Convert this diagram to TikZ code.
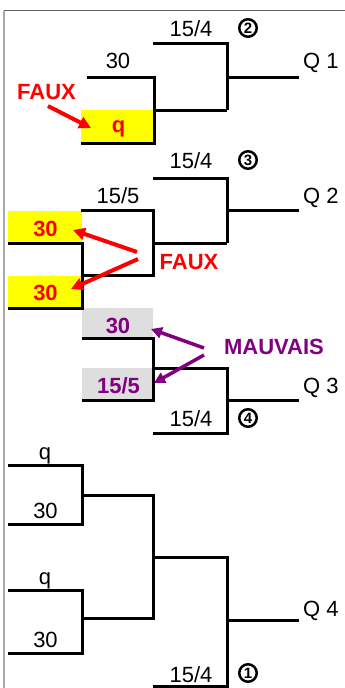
\documentclass[tikz,border=0pt]{standalone}
\usepackage{fontspec}
\setmainfont{Liberation Sans}
\usetikzlibrary{arrows.meta}
\definecolor{faux}{RGB}{255,0,0}
\definecolor{mauv}{RGB}{128,0,128}
\definecolor{hiyel}{RGB}{255,255,0}
\definecolor{higray}{RGB}{222,222,222}
\definecolor{frametop}{RGB}{96,96,96}
\definecolor{frameleft}{RGB}{170,170,170}
\begin{document}
\begin{tikzpicture}[x=1pt,y=-1pt,
  wire/.style={line width=3pt,line join=miter,line cap=butt},
  lbl/.style={inner sep=0pt,anchor=base,font=\fontsize{22}{26}\selectfont},
  qlbl/.style={lbl,anchor=base west},
  wrong/.style={lbl,font=\fontsize{22}{26}\selectfont\bfseries,text=faux},
  bad/.style={lbl,font=\fontsize{22}{26}\selectfont\bfseries,text=mauv},
  circ/.style={circle,draw,line width=2.5pt,minimum size=17.5pt,inner sep=0pt,anchor=center,
    font=\fontsize{15}{15}\selectfont\bfseries},
  redarrow/.style={draw=faux,line width=4pt,-{Triangle[length=12pt,width=12pt]}},
  purarrow/.style={draw=mauv,line width=3.5pt,-{Triangle[length=11pt,width=11pt]}}]
\useasboundingbox (0,0) rectangle (345,688);
% frame
\draw[frametop,line width=1pt] (4,10.5) -- (345,10.5);
\draw[frameleft,line width=1.5pt] (4,10.5) -- (4,688);
% highlighted boxes
\fill[hiyel] (81,110) rectangle (154,143);
\fill[hiyel] (8,211) rectangle (82,243);
\fill[hiyel] (8,276) rectangle (82,308);
\fill[higray] (82,308) rectangle (153,338);
\fill[higray] (82,368) rectangle (153,400);
% ---------- Q1 ----------
\draw[wire] (87,77) -- (154,77) -- (154,143) -- (81,143);
\draw[wire] (154,110) -- (227,110);
\draw[wire] (153,43) -- (227,43) -- (227,110);
\draw[wire] (227,77) -- (299,77);
\node[lbl] (a154) at (191,36) {15/4};
\node[circ] (c2) at (248,28) {2};
\node[lbl] (a30) at (118,68.3) {30};
\node[qlbl] (q1) at (303,68.3) {Q 1};
\node[wrong] (faux1) at (46.5,99) {FAUX};
\node[wrong] (aq) at (118.5,132) {q};
\coordinate (f1s) at (48,106);
\coordinate (f1e) at (91,128);
\draw[redarrow] (f1s) -- (f1e);
% ---------- Q2 ----------
\draw[wire] (153,178) -- (227,178) -- (227,243);
\draw[wire] (153,243) -- (227,243);
\draw[wire] (227,210) -- (299,210);
\draw[wire] (81,210) -- (153,210) -- (153,275) -- (82,275);
\draw[wire] (8,243) -- (82,243) -- (82,308) -- (8,308);
\node[lbl] (b154) at (191,168) {15/4};
\node[circ] (c3) at (248,160) {3};
\node[lbl] (b155) at (118,203) {15/5};
\node[qlbl] (q2) at (303,203) {Q 2};
\node[wrong] (b30a) at (45.5,236) {30};
\node[wrong] (b30b) at (45.5,300) {30};
\node[wrong] (faux2) at (189,269) {FAUX};
\coordinate (f2s) at (137,252);
\coordinate (f2e) at (73,230);
\coordinate (f3s) at (138,259);
\coordinate (f3e) at (71,289);
\draw[redarrow] (f2s) -- (f2e);
\draw[redarrow] (f3s) -- (f3e);
% ---------- Q3 ----------
\draw[wire] (82,338) -- (153,338) -- (153,400) -- (82,400);
\draw[wire] (153,368) -- (227,368) -- (227,433) -- (153,433);
\draw[wire] (227,400) -- (299,400);
\node[bad] (c30) at (118,333) {30};
\node[bad] (c155) at (118.5,393) {15/5};
\node[bad] (mauvais) at (274,354) {MAUVAIS};
\node[qlbl] (q3) at (303,393) {Q 3};
\node[lbl] (c154) at (191,426) {15/4};
\node[circ] (c4) at (248,418) {4};
\coordinate (m1s) at (204,348);
\coordinate (m1e) at (151,329);
\coordinate (m2s) at (204,355);
\coordinate (m2e) at (154,383);
\draw[purarrow] (m1s) -- (m1e);
\draw[purarrow] (m2s) -- (m2e);
% ---------- Q4 ----------
\draw[wire] (8,465) -- (82,465) -- (82,524) -- (8,524);
\draw[wire] (8,590) -- (82,590) -- (82,653) -- (8,653);
\draw[wire] (82,495) -- (153,495) -- (153,618) -- (82,618);
\draw[wire] (153,557) -- (227,557) -- (227,686) -- (153,686);
\draw[wire] (227,620) -- (299,620);
\node[lbl] (dq1) at (45,459) {q};
\node[lbl] (d30a) at (45.5,518) {30};
\node[lbl] (dq2) at (45,584) {q};
\node[lbl] (d30b) at (45.5,647) {30};
\node[lbl] (d154) at (191,682) {15/4};
\node[circ] (c1) at (248,673) {1};
\node[qlbl] (q4) at (303,616) {Q 4};
\end{tikzpicture}
\end{document}
